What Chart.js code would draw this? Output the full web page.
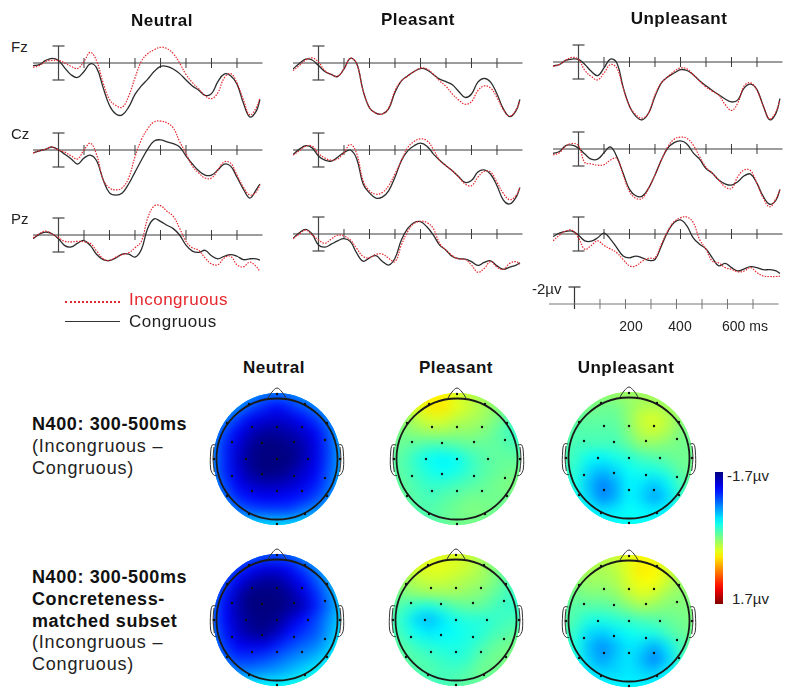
<!DOCTYPE html>
<html>
<head>
<meta charset="utf-8">
<title>ERP waveforms and N400 maps</title>
<script src="https://cdn.jsdelivr.net/npm/chart.js@4"></script>
<style>
  html, body { margin: 0; padding: 0; background: #fff; }
  #page { position: relative; width: 800px; height: 697px; overflow: hidden; font-family: "Liberation Sans", Arial, sans-serif; color: #222; }
  #page canvas { position: absolute; }
  .txt { position: absolute; white-space: nowrap; line-height: 1; transform: translateY(-50%); }
  .mid { transform: translate(-50%, -50%); }
  .b { font-weight: bold; color: #111; }
</style>
</head>
<body>
<div id="page"></div>
<script>
// ---- waveforms: time in ms, amplitude in microvolts (negative is up) ----
const times = [-100,-75,-50,-25,0,25,50,75,100,125,150,175,200,225,250,275,300,325,350,375,400,425,450,475,500,525,550,575,600,625,650,675,700,725,750,775,790];
const tickTimes = [100,200,300,400,500,600,700];
const errorBar = [-2,2];

const fzNeutralCong = [.3,.2,-.3,-.55,-.3,.6,1.4,1.7,1.0,.1,.6,2.9,5.0,6.0,6.1,5.2,3.7,2.7,1.9,1.0,.4,.4,.7,1.25,2.0,2.7,3.2,3.8,3.6,2.2,1.3,1.5,2.5,4.7,6.35,5.7,4.3];
const fzNeutralIncong = [.5,.3,-.2,-.3,-.3,0,.4,.65,-.2,-1.25,-.2,2.35,4.3,5.0,5.2,3.9,1.75,-.2,-1.1,-1.55,-1.85,-1.7,-1.1,0,1.35,2.3,3.05,3.85,4.2,3.5,1.75,1.25,2.35,4.3,6.1,5.3,4.1];
const czNeutralCong = [.35,.1,-.1,-.35,0,.5,1.05,1.65,.95,.6,1.3,3.5,5.05,5.3,5.05,4.0,2.6,1.2,-.1,-1.05,-1.2,-.95,-.75,-.35,.7,1.65,2.45,2.95,2.95,2.35,1.65,1.9,3.2,4.6,5.65,4.7,4.0];
const czNeutralIncong = [.35,.1,-.1,-.35,0,.25,.7,1.05,0,-.8,.6,3.5,4.45,4.7,4.45,3.3,.8,-1.2,-2.5,-3.3,-3.4,-3.2,-2.6,-1.0,.4,1.9,2.7,3.3,3.3,2.35,1.4,1.55,2.95,4.35,5.3,4.95,4.1];
const pzNeutralCong = [.45,-.1,-.35,-.15,.45,1.25,1.4,.95,.65,1.25,2.3,2.9,3.0,2.7,2.25,2.25,2.6,1.7,-.8,-1.9,-1.6,-1.15,-.75,0,1.2,1.9,2.05,1.8,2.45,2.8,2.5,2.3,2.5,2.9,2.8,2.8,2.95];
const pzNeutralIncong = [.35,-.15,-.45,-.1,.3,.75,.8,.75,.8,1.0,1.9,2.8,3.0,2.6,2.3,2.1,1.5,.75,-2.0,-3.4,-3.45,-2.8,-2.2,-.8,.75,1.5,1.8,2.7,3.4,3.5,2.7,2.5,3.5,3.75,3.2,3.7,4.3];

const fzPleasantCong = [.7,.05,-.45,-.35,.3,1.0,1.35,1.6,.7,-.55,.1,3.25,5.3,5.9,6.0,5.4,3.45,2.1,1.5,1.0,.65,.8,1.35,1.9,2.2,2.55,3.35,4.05,3.65,2.25,1.8,2.25,3.65,5.4,6.3,5.6,4.3];
const fzPleasantIncong = [.9,.3,-.35,-.6,-.1,.9,1.35,1.55,.7,-.55,.1,3.25,5.2,5.9,6.0,5.3,3.25,2.1,1.55,1.0,.6,.7,1.3,2.1,2.75,3.65,4.35,4.85,4.55,3.25,2.7,2.95,4.05,5.5,6.25,5.5,4.45];
const czPleasantCong = [.55,-.1,-.5,-.25,.7,1.2,1.3,.85,.3,0,1.05,4.0,5.05,5.65,5.55,4.8,3.2,1.25,.1,-.5,-.8,-.45,.45,1.2,1.85,2.45,3.15,3.8,3.6,2.6,2.35,2.85,4.2,5.9,6.35,5.55,4.4];
const czPleasantIncong = [.6,.1,-.45,-.45,.4,.95,1.2,1.05,.3,-.65,.45,3.6,4.8,5.2,5.0,4.2,2.8,1.25,-.3,-1.0,-1.3,-1.1,-.1,1.2,1.85,2.45,3.2,4.0,4.2,3.2,2.5,2.6,3.8,5.1,5.85,5.35,4.4];
const pzPleasantCong = [.5,-.15,-.55,0,1.3,1.55,1.2,.8,.55,.9,2.25,3.2,2.8,2.55,3.2,3.65,2.85,.7,-.65,-1.35,-1.45,-.85,.1,1.3,1.9,2.65,2.9,2.95,3.25,3.7,3.35,3.15,3.75,4.15,3.9,3.65,3.4];
const pzPleasantIncong = [.55,0,-.45,.1,.7,1.1,.6,.15,.25,.7,1.7,2.65,2.8,2.4,2.35,2.85,3.25,1.3,-.3,-1.25,-1.5,-1.35,-.65,1.1,1.9,2.55,2.95,3.0,3.65,4.5,4.05,3.25,3.9,4.15,3.45,3.25,3.55];

const fzUnpleasantCong = [.45,.3,-.2,-.35,-.3,.3,1.1,1.6,.7,-.35,.1,2.95,5.2,6.4,6.8,6.0,4.05,2.45,1.75,1.3,.9,1.0,1.5,2.2,2.8,3.35,3.85,4.35,4.7,4.45,3.05,2.6,3.25,5.2,6.8,6.0,4.3];
const fzUnpleasantIncong = [.5,.3,-.2,-.55,-.3,1.0,1.7,2.1,1.3,.3,.7,3.05,5.2,6.2,6.6,6.0,3.85,2.45,1.75,1.1,.7,.8,1.5,2.25,2.95,3.45,3.9,5.0,5.7,4.8,2.8,2.45,3.35,5.2,6.7,5.8,4.45];
const czUnpleasantCong = [.5,.3,-.4,-.45,-.1,.6,1.2,1.2,.45,-.25,.9,2.85,4.75,5.5,5.55,4.6,3.05,1.3,-.1,-.75,-.95,-.6,.45,1.2,2.3,2.85,3.65,4.1,4.25,3.85,3.15,2.95,4.05,5.6,6.5,6.0,4.75];
const czUnpleasantIncong = [.7,.45,-.35,-.65,-.4,1.6,1.75,1.9,1.85,1.3,1.1,3.05,5.0,5.8,5.8,4.6,3.05,1.3,-.25,-1.15,-1.4,-1.25,-.45,.9,2.15,2.85,3.65,4.45,4.65,3.25,2.45,2.55,4.05,5.8,6.8,5.8,4.8];
const pzUnpleasantCong = [.3,-.1,-.3,-.35,.15,.8,.85,.45,-.1,.6,1.6,2.6,2.8,2.6,2.8,3.1,3.0,1.4,-.25,-1.35,-1.65,-.95,.45,1.2,1.75,2.8,3.75,3.45,3.95,4.35,4.1,3.85,3.95,4.2,4.2,4.35,4.65];
const pzUnpleasantIncong = [.8,.15,-.35,-.45,.45,1.8,1.35,.8,1.35,1.75,2.2,3.0,3.75,3.75,3.2,2.85,2.8,1.2,-.35,-1.45,-1.9,-2.0,-1.35,.65,1.8,3.2,3.4,3.95,4.15,4.45,4.35,3.95,4.55,4.95,5.0,5.0,4.95];

// ---- scalp maps: microvolts read on an 11 x 11 grid, rows top to bottom ----
const gridSteps = [-65,-52,-39,-26,-13,0,13,26,39,52,65];
const mapNeutralTop = [
  [-.5,-.55,-.65,-.75,-.85,-.9,-.85,-.75,-.65,-.55,-.45],
  [-.6,-.65,-.8,-1.0,-1.15,-1.25,-1.15,-1.0,-.85,-.65,-.55],
  [-.65,-.85,-1.1,-1.3,-1.4,-1.45,-1.4,-1.25,-1.1,-.85,-.6],
  [-.75,-1.05,-1.3,-1.5,-1.6,-1.6,-1.55,-1.45,-1.3,-1.0,-.65],
  [-.8,-1.15,-1.4,-1.6,-1.7,-1.7,-1.65,-1.55,-1.35,-1.05,-.7],
  [-.8,-1.15,-1.45,-1.65,-1.7,-1.7,-1.7,-1.55,-1.35,-1.05,-.7],
  [-.8,-1.15,-1.4,-1.6,-1.7,-1.7,-1.6,-1.45,-1.3,-1.0,-.7],
  [-.75,-1.05,-1.3,-1.45,-1.5,-1.5,-1.45,-1.35,-1.2,-.95,-.65],
  [-.65,-.9,-1.15,-1.25,-1.3,-1.3,-1.25,-1.2,-1.05,-.85,-.6],
  [-.55,-.7,-.9,-1.0,-1.05,-1.05,-1.05,-.9,-.8,-.65,-.5],
  [-.45,-.5,-.55,-.55,-.55,-.55,-.55,-.55,-.5,-.5,-.45]];
const mapPleasantTop = [
  [.1,.2,.35,.45,.45,.3,.2,.1,0,-.1,-.2],
  [.05,.2,.35,.5,.5,.35,.25,.15,.05,-.1,-.2],
  [0,.05,.2,.3,.3,.2,.15,.1,0,-.15,-.3],
  [-.05,0,.05,.1,.1,.05,.05,0,-.1,-.2,-.3],
  [-.05,-.1,-.15,-.2,-.2,-.15,-.1,-.1,-.1,-.15,-.2],
  [-.1,-.15,-.3,-.4,-.45,-.4,-.25,-.15,-.1,-.1,-.1],
  [-.1,-.15,-.25,-.35,-.4,-.35,-.25,-.15,-.1,-.05,-.05],
  [-.1,-.1,-.2,-.25,-.25,-.2,-.15,-.1,-.05,0,0],
  [-.1,-.1,-.15,-.2,-.15,-.1,-.05,-.05,-.05,-.05,-.05],
  [-.1,-.1,-.15,-.15,-.1,-.05,0,0,-.05,-.05,-.1],
  [-.15,-.15,-.15,-.15,-.1,-.05,-.05,-.05,-.1,-.1,-.15]];
const mapUnpleasantTop = [
  [.05,.1,.1,.1,.1,.1,.1,.1,.05,0,-.05],
  [0,0,0,-.05,-.05,.05,.15,.15,.1,.05,0],
  [-.05,-.1,-.1,-.1,-.1,.05,.25,.3,.2,.05,0],
  [-.1,-.15,-.15,-.15,-.15,0,.2,.25,.15,0,-.05],
  [-.15,-.2,-.2,-.2,-.2,-.1,.05,.05,0,-.05,-.05],
  [-.15,-.25,-.4,-.45,-.35,-.3,-.2,-.15,-.1,-.05,-.05],
  [-.2,-.3,-.55,-.65,-.55,-.4,-.35,-.35,-.25,-.1,-.05],
  [-.25,-.35,-.65,-.85,-.7,-.45,-.5,-.6,-.45,-.2,-.1],
  [-.3,-.35,-.6,-.85,-.7,-.45,-.55,-.75,-.55,-.25,-.15],
  [-.35,-.35,-.45,-.55,-.5,-.4,-.45,-.5,-.45,-.3,-.25],
  [-.4,-.4,-.4,-.4,-.4,-.4,-.4,-.4,-.4,-.35,-.3]];
const mapNeutralBottom = [
  [-.6,-.7,-.8,-.9,-1.0,-1.0,-.95,-.8,-.6,-.45,-.35],
  [-.65,-.85,-1.1,-1.25,-1.35,-1.35,-1.25,-1.05,-.85,-.6,-.4],
  [-.8,-1.05,-1.3,-1.5,-1.6,-1.6,-1.45,-1.25,-1.0,-.75,-.5],
  [-.85,-1.2,-1.5,-1.7,-1.7,-1.7,-1.6,-1.4,-1.15,-.85,-.55],
  [-.9,-1.25,-1.55,-1.7,-1.7,-1.7,-1.65,-1.5,-1.2,-.9,-.6],
  [-.9,-1.25,-1.5,-1.65,-1.7,-1.65,-1.45,-1.25,-1.05,-.8,-.55],
  [-.85,-1.2,-1.45,-1.6,-1.65,-1.5,-1.25,-1.1,-1.0,-.75,-.5],
  [-.8,-1.1,-1.3,-1.35,-1.35,-1.2,-1.05,-.95,-.85,-.65,-.45],
  [-.7,-.95,-1.1,-1.1,-1.05,-.95,-.85,-.75,-.65,-.5,-.35],
  [-.6,-.75,-.85,-.85,-.8,-.75,-.65,-.55,-.45,-.35,-.25],
  [-.5,-.5,-.5,-.5,-.45,-.45,-.4,-.3,-.25,-.2,-.15]];
const mapPleasantBottom = [
  [.1,.15,.25,.3,.3,.3,.25,.1,0,-.1,-.15],
  [.05,.15,.3,.35,.35,.3,.25,.15,0,-.1,-.15],
  [0,.1,.2,.25,.25,.2,.15,.1,0,-.15,-.2],
  [-.05,0,.05,.1,.1,.1,.05,0,-.1,-.2,-.25],
  [-.1,-.2,-.3,-.35,-.25,-.15,-.1,-.1,-.2,-.25,-.25],
  [-.15,-.3,-.55,-.65,-.5,-.35,-.3,-.3,-.25,-.2,-.2],
  [-.15,-.25,-.4,-.5,-.45,-.4,-.35,-.3,-.2,-.15,-.1],
  [-.1,-.15,-.25,-.3,-.35,-.35,-.3,-.2,-.1,-.05,0],
  [-.1,-.1,-.15,-.2,-.25,-.3,-.25,-.1,-.05,0,0],
  [-.15,-.15,-.15,-.15,-.2,-.2,-.15,-.05,-.05,-.05,-.05],
  [-.2,-.2,-.2,-.2,-.2,-.15,-.1,-.1,-.1,-.1,-.15]];
const mapUnpleasantBottom = [
  [.1,.15,.2,.2,.25,.35,.4,.35,.2,.1,.05],
  [.05,.1,.15,.15,.2,.35,.5,.45,.3,.15,.05],
  [0,.05,.1,.1,.15,.3,.4,.4,.25,.1,.05],
  [-.05,-.05,0,0,.05,.2,.3,.25,.1,.05,0],
  [-.1,-.15,-.15,-.15,-.1,0,.1,.05,0,0,0],
  [-.1,-.2,-.35,-.35,-.3,-.25,-.2,-.15,-.1,-.05,0],
  [-.15,-.3,-.55,-.6,-.5,-.4,-.35,-.35,-.2,-.1,-.05],
  [-.2,-.35,-.65,-.8,-.65,-.5,-.55,-.7,-.5,-.2,-.1],
  [-.25,-.35,-.6,-.75,-.6,-.5,-.65,-.85,-.6,-.25,-.1],
  [-.35,-.4,-.5,-.55,-.55,-.5,-.55,-.6,-.45,-.3,-.2],
  [-.45,-.45,-.45,-.45,-.45,-.45,-.45,-.45,-.4,-.35,-.3]];

// electrodes and head drawing, in map units
const electrodes = [[0,-65],[-25,-32],[0,-32],[25,-32],[-45,-17],[-15,-16],[17,-17],[48,-19],[-31,0],[0,0],[31,0],[-45,17],[-15,15],[17,17],[48,19],[-25,32],[0,32],[25,32],[0,65],[-28,-55],[28,-55],[-50,-36],[50,-36],[-63,0],[63,0],[-50,37],[50,37],[-28,55],[28,55]];
const noseShape = [[-9,-61],[-5,-67],[0,-71],[5,-67],[9,-61]];
const earOuter = [[-60.7,-14],[-64.7,-14],[-66.3,-7],[-66.3,10],[-63.3,16],[-60,16.7]];
const earInner = [[-63,-12],[-64,0],[-62.7,13]];

const colorbarRange = [-1.7,1.7];

const page = document.getElementById("page");

function addText(text, x, y, size, extra, color, spacing) {
    const el = document.createElement("div");
    el.className = "txt " + (extra || "");
    el.textContent = text;
    el.style.left = x + "px";
    el.style.top = y + "px";
    el.style.fontSize = size + "px";
    if (color) el.style.color = color;
    if (spacing) el.style.letterSpacing = spacing + "px";
    page.appendChild(el);
}

function addCanvas(x, y, w, h) {
    const c = document.createElement("canvas");
    c.width = w;
    c.height = h;
    c.style.left = x + "px";
    c.style.top = y + "px";
    c.style.width = w + "px";
    c.style.height = h + "px";
    page.appendChild(c);
    return c;
}

const hiddenScale = (min, max, reverse) => ({ type: "linear", display: false, min, max, reverse: !!reverse });
const baseOptions = (x, y) => ({
    responsive: false,
    animation: false,
    events: [],
    layout: { padding: 0, autoPadding: false },
    plugins: { legend: { display: false }, tooltip: { enabled: false } },
    scales: { x, y }
});

const PX_PER_UV = 8.5;
const PANEL_ABOVE = 35;
const PANEL_HEIGHT = 110;
const TOP_UV = -PANEL_ABOVE / PX_PER_UV;
const BOTTOM_UV = TOP_UV + PANEL_HEIGHT / PX_PER_UV;

function axisDatasets(color, lineWidth) {
    return [
        { type: "line", data: [{ x: -100, y: 0 }, { x: 800, y: 0 }], borderColor: color, borderWidth: lineWidth, pointRadius: 0 },
        { type: "scatter", data: tickTimes.map(t => ({ x: t, y: 0 })), pointStyle: "line", pointRotation: 90, pointRadius: 5, pointBorderColor: color, borderColor: color, pointBorderWidth: 1 }
    ];
}

function drawWave(left, baseline, cong, incong) {
    const toPts = arr => arr.map((v, i) => ({ x: times[i], y: v }));
    new Chart(addCanvas(left, baseline - PANEL_ABOVE, 230, PANEL_HEIGHT), {
        type: "line",
        data: {
            datasets: [
                { data: toPts(incong), borderColor: "#e5282e", borderWidth: 1.2, borderDash: [1.5, 1.3], pointRadius: 0, tension: 0.4 },
                { data: toPts(cong), borderColor: "#2c2c2c", borderWidth: 1.3, pointRadius: 0, tension: 0.4 },
                ...axisDatasets("#3a3a3a", 1),
                { data: errorBar.map(v => ({ x: 0, y: v })), borderColor: "#444", borderWidth: 1.2, pointStyle: "line", pointRadius: 6, pointBorderColor: "#444", pointBorderWidth: 1.2 }
            ]
        },
        options: baseOptions(hiddenScale(-100, 802), hiddenScale(TOP_UV, BOTTOM_UV, true))
    });
}

drawWave(33, 63, fzNeutralCong, fzNeutralIncong);
drawWave(33, 150, czNeutralCong, czNeutralIncong);
drawWave(33, 235, pzNeutralCong, pzNeutralIncong);
drawWave(293, 63, fzPleasantCong, fzPleasantIncong);
drawWave(293, 150, czPleasantCong, czPleasantIncong);
drawWave(293, 234, pzPleasantCong, pzPleasantIncong);
drawWave(553, 62, fzUnpleasantCong, fzUnpleasantIncong);
drawWave(553, 149, czUnpleasantCong, czUnpleasantIncong);
drawWave(553, 234, pzUnpleasantCong, pzUnpleasantIncong);

// calibration axis under the Unpleasant column
new Chart(addCanvas(549, 304 - PANEL_ABOVE, 230, PANEL_HEIGHT), {
    type: "line",
    data: {
        datasets: [
            ...axisDatasets("#777", 1),
            { data: [{ x: 0, y: -2 }, { x: 0, y: .6 }], borderColor: "#333", borderWidth: 1.2, pointRadius: 0 },
            { type: "scatter", data: [{ x: 0, y: -2 }], pointStyle: "line", pointRadius: 6, pointBorderColor: "#333", pointBorderWidth: 1.2 }
        ]
    },
    options: baseOptions(hiddenScale(-100, 802), hiddenScale(TOP_UV, BOTTOM_UV, true))
});

// ---- scalp maps ----
function jet(v) {
    const t = (v + 1.7) / 3.4;
    const ch = c => Math.round(255 * Math.max(0, Math.min(1, 1.5 - Math.abs(4 * t - c))));
    return `rgb(${ch(3)},${ch(2)},${ch(1)})`;
}

const HEAD_RADIUS = 60.5;
const RIM_X = 63.5;
const RIM_Y = 66;
const blurHeat = {
    id: "blurHeat",
    afterDatasetDraw(chart, args) {
        if (args.index !== chart.data.datasets.length - 1) return;
        const ctx = chart.ctx, sx = chart.scales.x, sy = chart.scales.y;
        const cx = sx.getPixelForValue(0), cy = sy.getPixelForValue(0);
        const copy = document.createElement("canvas");
        copy.width = chart.width;
        copy.height = chart.height;
        copy.getContext("2d").drawImage(chart.canvas, 0, 0);
        ctx.save();
        ctx.clearRect(0, 0, chart.width, chart.height);
        ctx.beginPath();
        ctx.ellipse(cx, cy, RIM_X, RIM_Y, 0, 0, Math.PI * 2);
        ctx.clip();
        ctx.drawImage(copy, 0, 0);
        ctx.filter = "blur(6px)";
        ctx.drawImage(copy, 0, 0);
        ctx.restore();
        ctx.save();
        ctx.beginPath();
        ctx.arc(cx, cy, HEAD_RADIUS, 0, Math.PI * 2);
        ctx.lineWidth = 1.8;
        ctx.strokeStyle = "#1a1a1a";
        ctx.stroke();
        ctx.restore();
    }
};

function drawMap(cx, cy, grid) {
    const cells = [];
    grid.forEach((row, r) => row.forEach((v, c) => cells.push({ x: gridSteps[c], y: gridSteps[r], v })));
    const pts = arr => arr.map(p => ({ x: p[0], y: p[1] }));
    const mirror = arr => arr.map(p => [-p[0], p[1]]);
    const outline = arr => ({ type: "line", data: pts(arr), borderColor: "#333", borderWidth: 1, pointRadius: 0, tension: 0.35 });
    new Chart(addCanvas(Math.round(cx - 75), Math.round(cy - 75), 150, 150), {
        type: "scatter",
        data: {
            datasets: [
                { data: pts(electrodes), pointStyle: "circle", pointRadius: 1.2, pointBackgroundColor: "#111", pointBorderWidth: 0 },
                outline(noseShape),
                outline(earOuter), outline(earInner),
                outline(mirror(earOuter)), outline(mirror(earInner)),
                { data: cells, pointStyle: "rect", pointRadius: 10, pointBorderWidth: 0, pointBackgroundColor: cells.map(p => jet(p.v)) }
            ]
        },
        options: baseOptions(hiddenScale(-75, 75), hiddenScale(-75, 75, true)),
        plugins: [blurHeat]
    });
}

drawMap(276.7, 459, mapNeutralTop);
drawMap(456.7, 458.5, mapPleasantTop);
drawMap(629.3, 458, mapUnpleasantTop);
drawMap(277, 620, mapNeutralBottom);
drawMap(456.3, 620, mapPleasantBottom);
drawMap(629.3, 620.7, mapUnpleasantBottom);

// colour bar
new Chart(addCanvas(715, 472, 8, 132), {
    type: "bar",
    data: {
        labels: ["scale"],
        datasets: [{
            data: [colorbarRange],
            barPercentage: 1,
            categoryPercentage: 1,
            backgroundColor(c) {
                const area = c.chart.chartArea;
                if (!area) return "#00f";
                const g = c.chart.ctx.createLinearGradient(0, area.top, 0, area.bottom);
                for (let i = 0; i <= 20; i++) g.addColorStop(i / 20, jet(-1.7 + 3.4 * i / 20));
                return g;
            }
        }]
    },
    options: baseOptions({ type: "category", display: false }, hiddenScale(-1.7, 1.7, true))
});

// ---- text ----
addText("Neutral", 162, 20, 17, "b mid", "", .5);
addText("Pleasant", 418, 19, 17, "b mid", "", .5);
addText("Unpleasant", 679, 18, 17, "b mid", "", .5);
addText("Fz", 11, 46, 15);
addText("Cz", 11, 133, 15);
addText("Pz", 11, 218, 15);

const legendRed = document.createElement("div");
legendRed.style.cssText = "position:absolute;left:65px;top:301px;width:55px;border-top:2px dotted #e5282e";
page.appendChild(legendRed);
const legendBlack = document.createElement("div");
legendBlack.style.cssText = "position:absolute;left:65px;top:321px;width:55px;border-top:1px solid #333";
page.appendChild(legendBlack);
addText("Incongruous", 129, 299, 17, "", "#e5282e", .5);
addText("Congruous", 129, 321, 17, "", "", .5);

addText("-2µv", 532, 288, 15);
addText("200", 631, 326, 14, "mid");
addText("400", 680, 326, 14, "mid");
addText("600 ms", 745, 326, 14, "mid");

addText("Neutral", 274, 367, 17, "b mid", "", .5);
addText("Pleasant", 456, 367, 17, "b mid", "", .5);
addText("Unpleasant", 626, 367, 17, "b mid", "", .5);

addText("N400: 300-500ms", 32, 424, 18, "b", "", .6);
addText("(Incongruous –", 32, 446, 18, "", "", .8);
addText("Congruous)", 32, 468, 18, "", "", .8);
addText("N400: 300-500ms", 32, 577, 18, "b", "", .6);
addText("Concreteness-", 32, 599, 18, "b", "", .6);
addText("matched subset", 32, 621, 18, "b", "", .6);
addText("(Incongruous –", 32, 642, 18, "", "", .8);
addText("Congruous)", 32, 664, 18, "", "", .8);

addText("-1.7µv", 727, 475, 15);
addText("1.7µv", 732, 598, 15);
</script>
</body>
</html>
